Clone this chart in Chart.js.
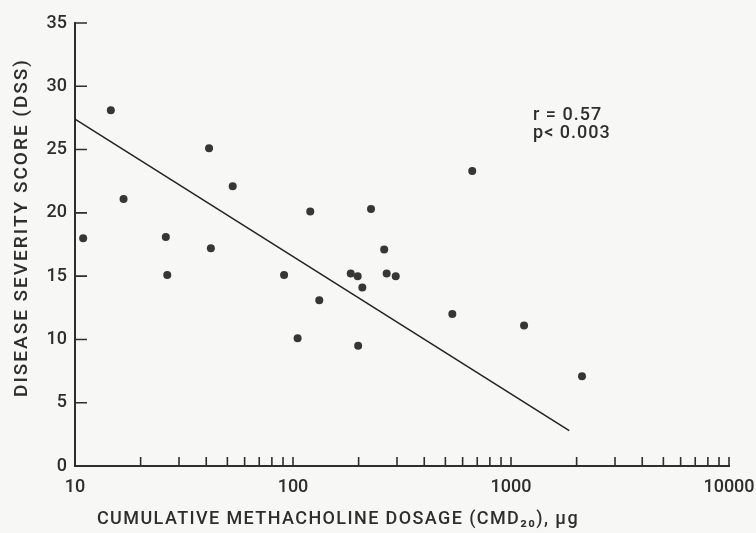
<!DOCTYPE html>
<html>
<head>
<meta charset="utf-8">
<script src="https://cdn.jsdelivr.net/npm/chart.js@4.4.0/dist/chart.umd.min.js"></script>
<style>
  html, body { margin: 0; padding: 0; background: #f7f7f5; }
  canvas { display: block; }
</style>
</head>
<body>
<canvas id="c" width="756" height="533"></canvas>
<script>
// ---- data ----
const doseValues = [10.9, 14.6, 16.7, 26.1, 26.5, 41.2, 42, 52.9, 91, 105, 120, 132,
                    184, 198, 199, 208, 228, 262, 269, 296, 538, 664, 1148, 2117];
const dssValues  = [18.0, 28.1, 21.1, 18.1, 15.1, 25.1, 17.2, 22.1, 15.1, 10.1, 20.1, 13.1,
                    15.2, 15.0, 9.5, 14.1, 20.3, 17.1, 15.2, 15.0, 12.0, 23.3, 11.1, 7.1];
const fitDose = [10, 1850];
const fitDss  = [27.4, 2.8];
const xTickValues = [10, 20, 30, 40, 50, 60, 70, 80, 90,
                     100, 200, 300, 400, 500, 600, 700, 800, 900,
                     1000, 2000, 3000, 4000, 5000, 6000, 7000, 8000, 9000, 10000];
const xTickLabels = ['10', '100', '1000', '10000'];
const yTickStep = 5;
const statLines = ['r = 0.57', 'p< 0.003'];
const xTitle = 'CUMULATIVE METHACHOLINE DOSAGE (CMD\u2082\u2080), \u00b5g';
const yTitle = 'DISEASE SEVERITY SCORE (DSS)';

const INK = '#2e2e2e';
const FONT = "Roboto, 'Liberation Sans', Arial, sans-serif";
const WEIGHT = 500;

const bgPlugin = {
  id: 'bg',
  beforeDraw(chart) {
    const { ctx, width, height } = chart;
    ctx.save();
    ctx.fillStyle = '#f7f7f5';
    ctx.fillRect(0, 0, width, height);
    ctx.restore();
  }
};

function wrapTitle(scale, spacing, dx, dy) {
  if (scale._titleWrapped) return;
  const orig = scale.drawTitle;
  scale.drawTitle = function () {
    const c = this.ctx;
    c.save();
    c.letterSpacing = spacing;
    c.translate(dx, dy);
    orig.call(this);
    c.restore();
  };
  scale._titleWrapped = true;
}

const titlePlugin = {
  id: 'titleStyle',
  beforeDraw(chart) {
    wrapTitle(chart.scales.x, '1.4px', -64, 0);
    wrapTitle(chart.scales.y, '2px', 0, -17);
  }
};

const inwardTicks = {
  id: 'inwardTicks',
  afterDraw(chart) {
    const { ctx, chartArea: a, scales: { x, y } } = chart;
    ctx.save();
    ctx.strokeStyle = INK;
    ctx.lineWidth = 1.6;
    ctx.beginPath();
    x.ticks.forEach(t => {
      const px = x.getPixelForValue(t.value);
      if (px <= a.left + 2) return;
      ctx.moveTo(px, a.bottom);
      ctx.lineTo(px, a.bottom - 9);
    });
    y.ticks.forEach(t => {
      const py = y.getPixelForValue(t.value);
      if (py >= a.bottom - 2) return;
      ctx.moveTo(a.left, py);
      ctx.lineTo(a.left + 12, py);
    });
    ctx.stroke();
    ctx.restore();
  }
};

const statPlugin = {
  id: 'stats',
  afterDraw(chart) {
    const { ctx, scales: { x, y } } = chart;
    ctx.save();
    ctx.fillStyle = INK;
    ctx.font = WEIGHT + ' 18px ' + FONT;
    ctx.letterSpacing = '1px';
    ctx.textAlign = 'left';
    ctx.textBaseline = 'alphabetic';
    const px = x.getPixelForValue(1262);
    ctx.fillText(statLines[0], px, y.getPixelForValue(27.3));
    ctx.fillText(statLines[1], px, y.getPixelForValue(25.9));
    ctx.restore();
  }
};

new Chart(document.getElementById('c'), {
  type: 'scatter',
  data: {
    datasets: [
      {
        label: 'DSS',
        data: doseValues.map((d, i) => ({ x: d, y: dssValues[i] })),
        pointRadius: 4,
        pointBackgroundColor: '#363636',
        pointBorderWidth: 0,
        showLine: false
      },
      {
        label: 'fit',
        data: fitDose.map((d, i) => ({ x: d, y: fitDss[i] })),
        showLine: true,
        pointRadius: 0,
        borderColor: '#222',
        borderWidth: 1.5
      }
    ]
  },
  options: {
    responsive: false,
    animation: false,
    layout: { padding: { left: 0, top: 23, right: 27, bottom: 0 } },
    plugins: { legend: { display: false }, tooltip: { enabled: false } },
    scales: {
      x: {
        type: 'logarithmic',
        min: 10,
        max: 10000,
        afterBuildTicks: s => { s.ticks = xTickValues.map(v => ({ value: v })); },
        afterFit: s => { s.height = 67; s.paddingLeft = 0; s.paddingRight = 0; },
        grid: { display: false, drawTicks: false },
        border: { display: true, color: INK, width: 2 },
        ticks: {
          autoSkip: false,
          maxRotation: 0,
          padding: 11,
          color: INK,
          font: { family: FONT, size: 18, weight: WEIGHT },
          callback: v => (xTickLabels.includes(String(v)) ? String(v) : '')
        },
        title: {
          display: true,
          text: xTitle,
          color: INK,
          font: { family: FONT, size: 18, weight: WEIGHT },
          padding: { top: 0, bottom: 3 }
        }
      },
      y: {
        min: 0,
        max: 35,
        afterFit: s => { s.width = 75; },
        grid: { display: false, drawTicks: false },
        border: { display: true, color: INK, width: 2 },
        ticks: {
          stepSize: yTickStep,
          padding: 8,
          color: INK,
          font: { family: FONT, size: 18, weight: WEIGHT }
        },
        title: {
          display: true,
          text: yTitle,
          color: INK,
          font: { family: FONT, size: 19, weight: WEIGHT },
          padding: { top: 11, bottom: 0 }
        }
      }
    }
  },
  plugins: [bgPlugin, titlePlugin, inwardTicks, statPlugin]
});
</script>
</body>
</html>
